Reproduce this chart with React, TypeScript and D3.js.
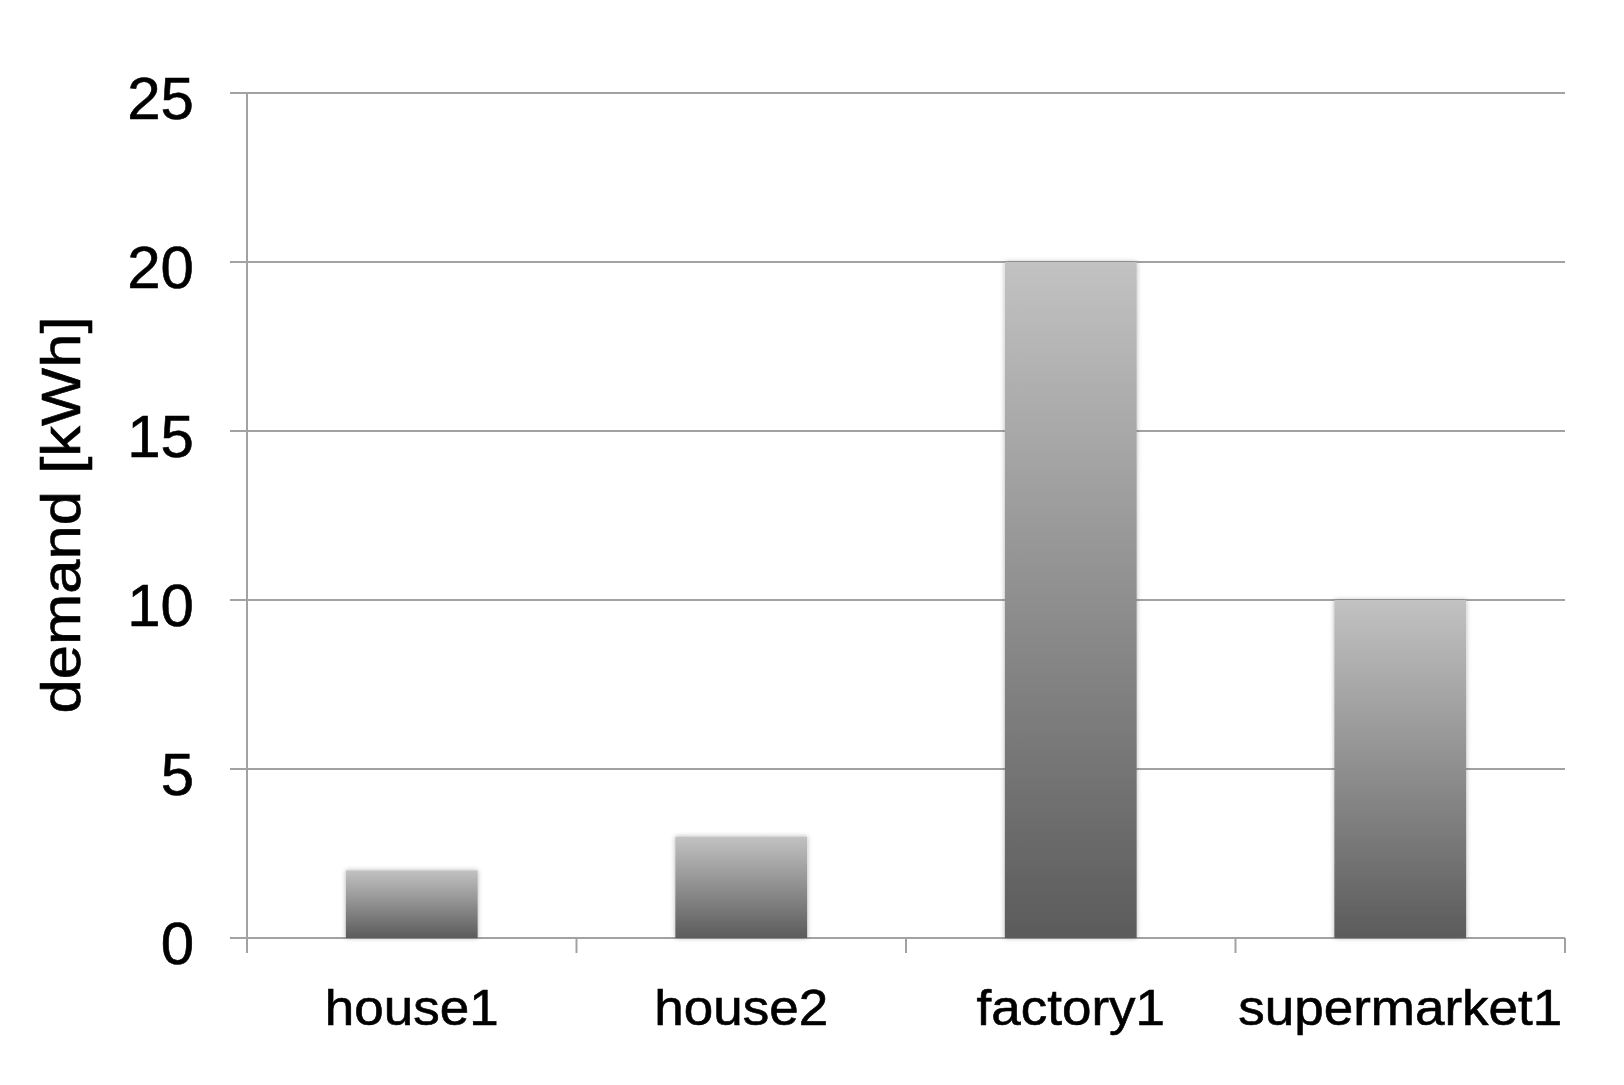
import React, { useEffect, useRef } from "react";
import { select, scaleBand, scaleLinear } from "d3";

const categories = ["house1", "house2", "factory1", "supermarket1"];
const demand = [2, 3, 20, 10];
const yTicks = [0, 5, 10, 15, 20, 25];
const yTitle = "demand [kWh]";

const WIDTH = 1624;
const HEIGHT = 1085;
const margin = { top: 93, right: 59, bottom: 147, left: 247 };
const FONT = "Liberation Sans, Arial, Helvetica, sans-serif";

function DemandChart() {
  const svgRef = useRef<SVGSVGElement | null>(null);

  useEffect(() => {
    const svg = select(svgRef.current);
    svg.selectAll("*").remove();
    const innerW = WIDTH - margin.left - margin.right;
    const innerH = HEIGHT - margin.top - margin.bottom;

    const defs = svg.append("defs");
    const grad = defs
      .append("linearGradient")
      .attr("id", "barGrad")
      .attr("x1", 0)
      .attr("y1", 0)
      .attr("x2", 0)
      .attr("y2", 1);
    grad.append("stop").attr("offset", "0%").attr("stop-color", "#c2c2c2");
    grad.append("stop").attr("offset", "100%").attr("stop-color", "#5b5b5b");
    const shadow = defs
      .append("filter")
      .attr("id", "barShadow")
      .attr("x", "-10%")
      .attr("y", "-10%")
      .attr("width", "120%")
      .attr("height", "120%");
    shadow
      .append("feDropShadow")
      .attr("dx", 0)
      .attr("dy", 0)
      .attr("stdDeviation", 2.5)
      .attr("flood-color", "#000")
      .attr("flood-opacity", 0.3);

    const g = svg
      .append("g")
      .attr("transform", `translate(${margin.left},${margin.top})`);

    // band edges for ticks / labels, narrower bands for the bars
    const xBand = scaleBand().domain(categories).range([0, innerW]).padding(0);
    const xBars = scaleBand()
      .domain(categories)
      .range([0, innerW])
      .paddingInner(0.6)
      .paddingOuter(0.3);
    const yScale = scaleLinear().domain([0, 25]).range([innerH, 0]);

    const gridColor = "#a2a2a2";

    // horizontal gridlines + y ticks
    g.selectAll(".grid")
      .data(yTicks)
      .join("line")
      .attr("class", "grid")
      .attr("x1", -17)
      .attr("x2", innerW)
      .attr("y1", (d) => yScale(d))
      .attr("y2", (d) => yScale(d))
      .attr("stroke", gridColor)
      .attr("stroke-width", 2);

    // y axis line
    g.append("line")
      .attr("x1", 0)
      .attr("x2", 0)
      .attr("y1", 0)
      .attr("y2", innerH + 15)
      .attr("stroke", gridColor)
      .attr("stroke-width", 2);

    // x ticks at band edges
    const edges = categories.map((c) => xBand(c) as number).slice(1);
    edges.push(innerW);
    g.selectAll(".xtick")
      .data(edges)
      .join("line")
      .attr("class", "xtick")
      .attr("x1", (d) => d)
      .attr("x2", (d) => d)
      .attr("y1", innerH)
      .attr("y2", innerH + 15)
      .attr("stroke", gridColor)
      .attr("stroke-width", 2);

    // bars
    g.selectAll(".bar")
      .data(demand)
      .join("rect")
      .attr("class", "bar")
      .attr("x", (d, i) => xBars(categories[i]) as number)
      .attr("width", xBars.bandwidth())
      .attr("y", (d) => yScale(d))
      .attr("height", (d) => yScale(0) - yScale(d))
      .attr("fill", "url(#barGrad)")
      .attr("filter", "url(#barShadow)");

    // y tick labels
    g.selectAll(".ylabel")
      .data(yTicks)
      .join("text")
      .attr("class", "ylabel")
      .attr("x", -53)
      .attr("y", (d) => yScale(d))
      .attr("dy", "0.44em")
      .attr("text-anchor", "end")
      .attr("font-family", FONT)
      .attr("font-size", 60)
      .attr("fill", "#000")
      .attr("stroke", "#000")
      .attr("stroke-width", 0.6)
      .text((d) => d);

    // x labels (slightly widened like the source)
    g.selectAll(".xlabel")
      .data(categories)
      .join("text")
      .attr("class", "xlabel")
      .attr(
        "transform",
        (d) =>
          `translate(${(xBand(d) as number) + xBand.bandwidth() / 2},${innerH + 87}) scale(1.06,1)`
      )
      .attr("text-anchor", "middle")
      .attr("font-family", FONT)
      .attr("font-size", 50)
      .attr("fill", "#000")
      .attr("stroke", "#000")
      .attr("stroke-width", 0.6)
      .text((d) => d);

    // y title
    svg
      .append("text")
      .attr("transform", `translate(80,515) rotate(-90) scale(1.12,1)`)
      .attr("text-anchor", "middle")
      .attr("font-family", FONT)
      .attr("font-size", 55)
      .attr("fill", "#000")
      .attr("stroke", "#000")
      .attr("stroke-width", 0.6)
      .text(yTitle);
  }, []);

  return (
    <svg
      ref={svgRef}
      width={WIDTH}
      height={HEIGHT}
      style={{ position: "absolute", left: 0, top: 0, background: "#fff" }}
    />
  );
}

export default function App() {
  return <DemandChart />;
}
